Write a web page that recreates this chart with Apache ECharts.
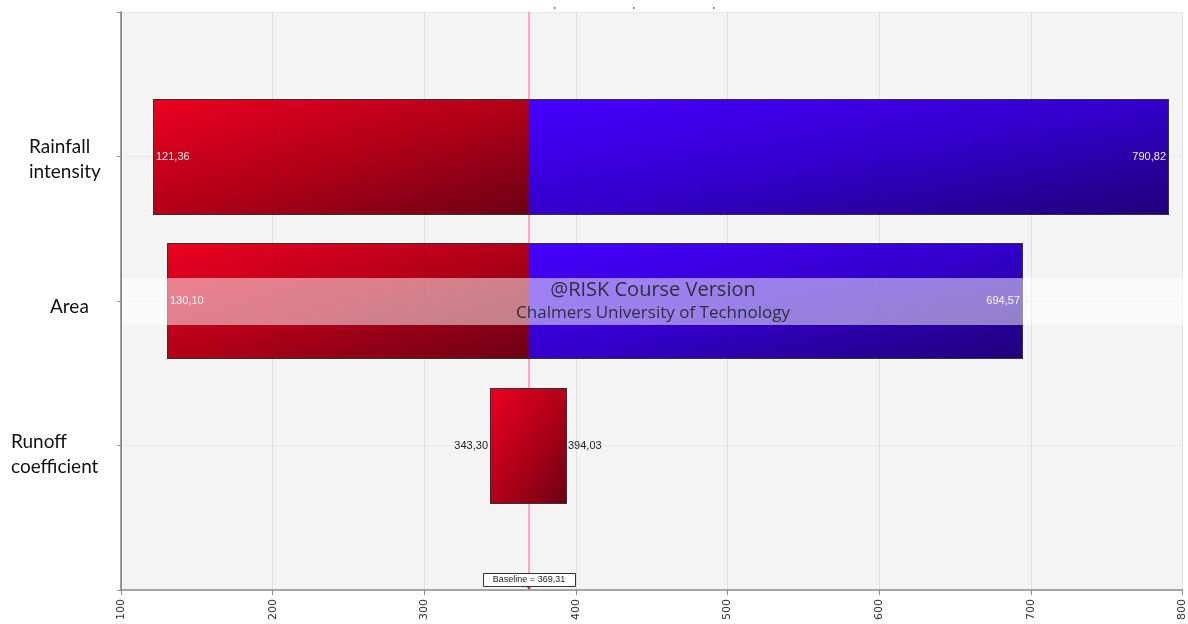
<!DOCTYPE html>
<html>
<head>
<meta charset="utf-8">
<title>Tornado – output mean by input</title>
<script src="https://cdn.jsdelivr.net/npm/echarts@6/dist/echarts.min.js"></script>
<style>
  html, body { margin: 0; padding: 0; background: #ffffff; }
  #chart { width: 1188px; height: 624px; }
</style>
</head>
<body>
<div id="chart"></div>
<script>
// Inputs, top to bottom
const categories = ['Rainfall intensity', 'Area', 'Runoff coefficient'];
// Output range while the input sits in its low bins (red) and high bins (blue)
const lowRange = [[121.36, 369.31], [130.10, 369.31], [343.30, 394.03]];
const highRange = [[369.31, 790.82], [369.31, 694.57], null];
// Output mean at baseline
const baseline = 369.31;
// Value axis ticks
const xTicks = [100, 200, 300, 400, 500, 600, 700, 800];

const fmt = v => v.toFixed(2).replace('.', ',');

// Whole bar extents, per input
const barEnds = categories.map((c, i) => {
  const parts = [lowRange[i], highRange[i]].filter(Boolean);
  return [
    Math.min(...parts.map(p => p[0])),
    Math.max(...parts.map(p => p[1]))
  ];
});

const BAR_BAND = 0.8; // bar thickness in category units

// Diagonal shading whose iso-lines run corner to corner (top-right to bottom-left)
function diagonalFill(x, y, w, h, stops) {
  const k = 2 * w * h / (w * w + h * h);
  return new echarts.graphic.LinearGradient(x, y, x + k * h, y + k * w, stops, true);
}

function barBox(api, lo, hi, y) {
  const p0 = api.coord([lo, y]);
  const p1 = api.coord([hi, y]);
  const h = Math.round(api.size([0, BAR_BAND])[1]);
  const x0 = Math.round(p0[0]), x1 = Math.round(p1[0]);
  return { x: x0, y: Math.round(p0[1] - h / 2), width: x1 - x0, height: h, cy: p0[1] };
}

function segmentRenderer(stops) {
  return function (params, api) {
    const b = barBox(api, api.value(1), api.value(2), api.value(0));
    return {
      type: 'rect',
      shape: { x: b.x, y: b.y, width: b.width, height: b.height },
      style: { fill: diagonalFill(b.x, b.y, b.width, b.height, stops) }
    };
  };
}

const redStops = [{ offset: 0, color: '#ec0020' }, { offset: 0.5, color: '#b20018' }, { offset: 1, color: '#6c0014' }];
const blueStops = [{ offset: 0, color: '#4600ff' }, { offset: 0.5, color: '#3300cc' }, { offset: 1, color: '#200078' }];

const toData = ranges => ranges
  .map((r, i) => r ? [i + 1, r[0], r[1]] : null)
  .filter(Boolean);

// Input names beside the bars: text, left edge and vertical nudge
const nameLabels = [
  { text: 'Rainfall\nintensity', left: 29, dy: 3 },
  { text: 'Area', left: 50, dy: 6 },
  { text: 'Runoff\ncoefficient', left: 11, dy: 9 }
];

const chart = echarts.init(document.getElementById('chart'), null, { renderer: 'canvas' });

chart.setOption({
  animation: false,
  backgroundColor: '#ffffff',
  grid: {
    left: 121, right: 4, top: 12, bottom: 34,
    show: true, backgroundColor: '#f4f4f4', borderWidth: 0
  },
  xAxis: {
    type: 'value',
    min: xTicks[0],
    max: xTicks[xTicks.length - 1],
    interval: 100,
    z: 5,
    axisLine: { show: true, onZero: false, lineStyle: { color: '#8c8c8c', width: 1.5 } },
    axisTick: { show: true, length: 5, lineStyle: { color: '#8c8c8c' } },
    axisLabel: {
      rotate: 90, margin: 9, fontSize: 11, color: '#333',
      fontFamily: 'DejaVu Sans',
      formatter: v => String(v)
    },
    splitLine: { show: true, lineStyle: { color: 'rgba(0,0,0,0.09)', width: 1 } }
  },
  yAxis: {
    type: 'value',
    min: 0, max: 4, interval: 1,
    inverse: true,
    axisLine: { show: true, onZero: false, lineStyle: { color: '#9a9a9a', width: 2 } },
    axisTick: { show: true, length: 4, lineStyle: { color: '#9a9a9a' } },
    splitLine: { show: true, lineStyle: { color: '#e9e9e9' } },
    axisLabel: { show: false }
  },
  series: [
    {
      name: 'low',
      type: 'custom',
      renderItem: segmentRenderer(redStops),
      encode: { x: [1, 2], y: 0 },
      data: toData(lowRange),
      z: 2
    },
    {
      name: 'high',
      type: 'custom',
      renderItem: segmentRenderer(blueStops),
      encode: { x: [1, 2], y: 0 },
      data: toData(highRange),
      z: 2
    },
    {
      // Outline of each whole bar with its end values
      name: 'ends',
      type: 'custom',
      z: 3,
      encode: { x: [1, 2], y: 0 },
      data: barEnds.map((e, i) => [i + 1, e[0], e[1]]),
      renderItem: function (params, api) {
        const lo = api.value(1), hi = api.value(2);
        const b = barBox(api, lo, hi, api.value(0));
        const inside = b.width > 120;
        const txt = {
          fontFamily: 'Liberation Sans', fontSize: 11,
          fill: inside ? 'rgba(255,255,255,0.95)' : '#222',
          verticalAlign: 'middle'
        };
        return {
          type: 'group',
          children: [
            {
              type: 'rect',
              shape: { x: b.x + 0.5, y: b.y + 0.5, width: b.width - 1, height: b.height - 1 },
              style: { fill: 'none', stroke: '#333', lineWidth: 1 }
            },
            {
              type: 'text',
              x: inside ? b.x + 3 : b.x - 2,
              y: b.cy,
              style: Object.assign({ text: fmt(lo), align: inside ? 'left' : 'right' }, txt)
            },
            {
              type: 'text',
              x: inside ? b.x + b.width - 3 : b.x + b.width + 1,
              y: b.cy,
              style: Object.assign({ text: fmt(hi), align: inside ? 'right' : 'left' }, txt)
            }
          ]
        };
      }
    },
    {
      // Baseline tag at the foot of the plot
      name: 'baselineTag',
      type: 'custom',
      z: 4,
      clip: false,
      encode: { x: 0, y: 1 },
      data: [[baseline, 0]],
      renderItem: function (params, api) {
        const cs = params.coordSys;
        const x = Math.round(api.coord([api.value(0), 0])[0]);
        const bottom = cs.y + cs.height;
        return {
          type: 'group',
          children: [
            {
              type: 'polygon',
              shape: { points: [[x - 2, bottom - 3], [x + 2, bottom - 3], [x, bottom]] },
              style: { fill: '#d0303a' }
            },
            {
              type: 'rect',
              shape: { x: x - 45.5, y: bottom - 16.5, width: 92, height: 13 },
              style: { fill: '#ffffff', stroke: '#333', lineWidth: 1 }
            },
            {
              type: 'text',
              x: x,
              y: bottom - 10,
              style: {
                text: 'Baseline = ' + fmt(api.value(0)),
                fontFamily: 'Liberation Sans Narrow, Liberation Sans', fontSize: 9,
                fill: '#222', align: 'center', verticalAlign: 'middle'
              }
            }
          ]
        };
      }
    }
  ]
});

// Baseline rule, drawn under the bars
const bx = Math.round(chart.convertToPixel({ xAxisIndex: 0 }, baseline));
const yTop = chart.convertToPixel({ yAxisIndex: 0 }, 0);
const yBottom = chart.convertToPixel({ yAxisIndex: 0 }, 4);

// Input names, placed against each category's row
const nameGraphics = categories.map((c, i) => {
  const py = chart.convertToPixel({ yAxisIndex: 0 }, i + 1);
  const spec = nameLabels[i];
  return {
    type: 'text', id: 'name' + i,
    x: spec.left, y: py + spec.dy,
    style: {
      text: spec.text, fontFamily: 'Lato', fontSize: 19, lineHeight: 25,
      fill: '#111', align: 'left', verticalAlign: 'middle'
    }
  };
});

chart.setOption({
  graphic: nameGraphics.concat([
    {
      type: 'line', id: 'baseRule', z: 1,
      shape: { x1: bx, y1: yTop, x2: bx, y2: yBottom },
      style: { stroke: '#ffa8ba', lineWidth: 2 }
    },
    // remnants of the clipped heading
    { type: 'rect', id: 'd1', shape: { x: 554, y: 7, width: 1.5, height: 2 }, style: { fill: '#777' } },
    { type: 'rect', id: 'd2', shape: { x: 633, y: 7, width: 1.5, height: 2 }, style: { fill: '#777' } },
    { type: 'rect', id: 'd3', shape: { x: 713, y: 7, width: 1.5, height: 2 }, style: { fill: '#777' } },
    // licence stamp band
    {
      type: 'rect', id: 'band', z: 50,
      shape: { x: 122, y: 278, width: 1062, height: 47 },
      style: { fill: 'rgba(255,255,255,0.5)' }
    },
    {
      type: 'text', id: 'stamp1', z: 51, x: 653, y: 290,
      style: {
        text: '@RISK Course Version', fontFamily: 'Open Sans', fontSize: 20,
        fill: 'rgba(35,35,45,0.9)', align: 'center', verticalAlign: 'middle'
      }
    },
    {
      type: 'text', id: 'stamp2', z: 51, x: 653, y: 313,
      style: {
        text: 'Chalmers University of Technology', fontFamily: 'Open Sans', fontSize: 17,
        fill: 'rgba(35,35,45,0.9)', align: 'center', verticalAlign: 'middle'
      }
    }
  ])
});
</script>
</body>
</html>
